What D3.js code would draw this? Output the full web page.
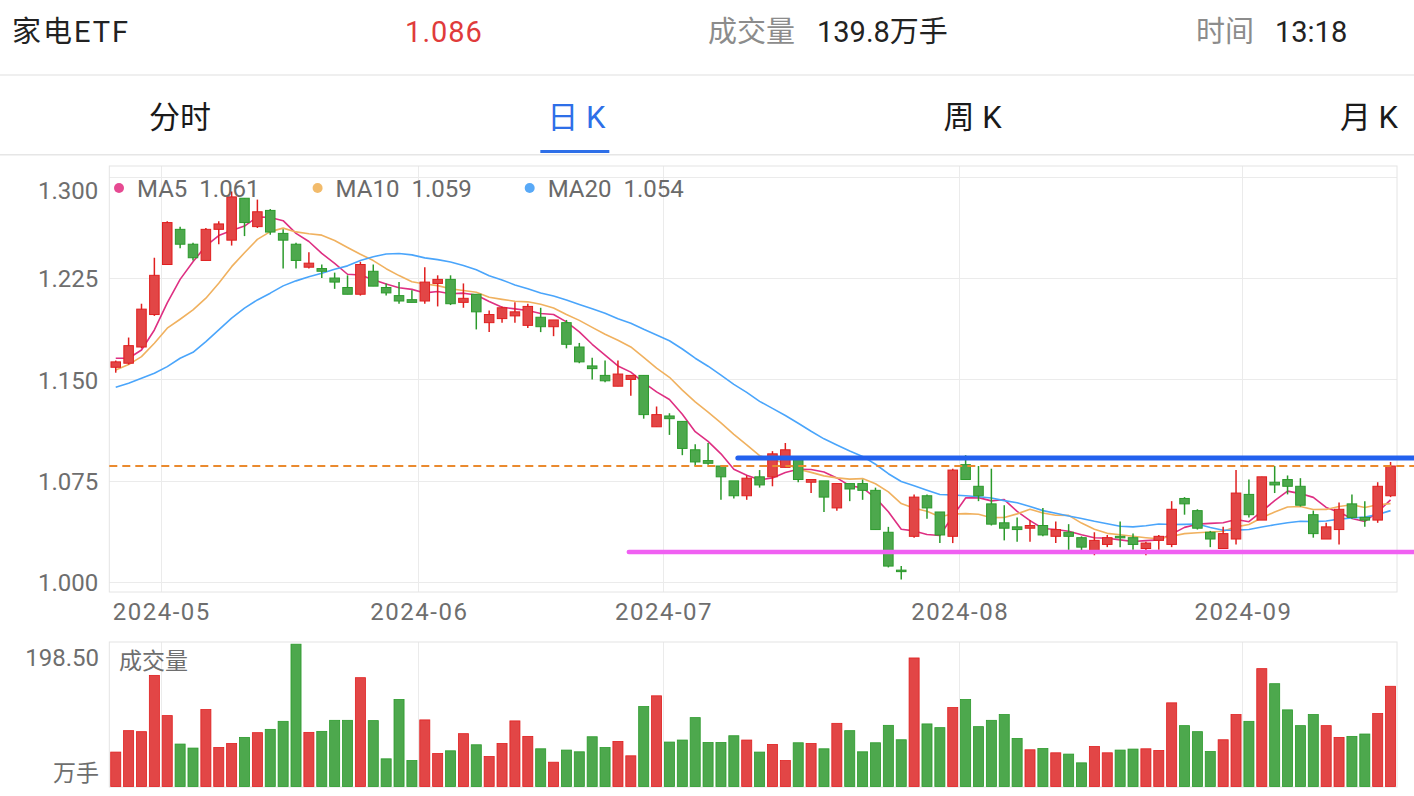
<!DOCTYPE html>
<html><head><meta charset="utf-8">
<script src="https://cdn.jsdelivr.net/npm/d3@7/dist/d3.min.js"></script>
<style>
html,body{margin:0;padding:0;background:#fff;}
svg{display:block;font-family:Roboto,"Noto Sans CJK SC",sans-serif;}
</style></head><body>
<svg id="c" width="1414" height="796"></svg>
<script>
// ---------- data ----------
const dates = [
"2024-04-25","2024-04-26","2024-04-29","2024-04-30",
"2024-05-06","2024-05-07","2024-05-08","2024-05-09","2024-05-10",
"2024-05-13","2024-05-14","2024-05-15","2024-05-16","2024-05-17",
"2024-05-20","2024-05-21","2024-05-22","2024-05-23","2024-05-24",
"2024-05-27","2024-05-28","2024-05-29","2024-05-30","2024-05-31",
"2024-06-03","2024-06-04","2024-06-05","2024-06-06","2024-06-07",
"2024-06-11","2024-06-12","2024-06-13","2024-06-14",
"2024-06-17","2024-06-18","2024-06-19","2024-06-20","2024-06-21",
"2024-06-24","2024-06-25","2024-06-26","2024-06-27","2024-06-28",
"2024-07-01","2024-07-02","2024-07-03","2024-07-04","2024-07-05",
"2024-07-08","2024-07-09","2024-07-10","2024-07-11","2024-07-12",
"2024-07-15","2024-07-16","2024-07-17","2024-07-18","2024-07-19",
"2024-07-22","2024-07-23","2024-07-24","2024-07-25","2024-07-26",
"2024-07-29","2024-07-30","2024-07-31",
"2024-08-01","2024-08-02",
"2024-08-05","2024-08-06","2024-08-07","2024-08-08","2024-08-09",
"2024-08-12","2024-08-13","2024-08-14","2024-08-15","2024-08-16",
"2024-08-19","2024-08-20","2024-08-21","2024-08-22","2024-08-23",
"2024-08-26","2024-08-27","2024-08-28","2024-08-29","2024-08-30",
"2024-09-02","2024-09-03","2024-09-04","2024-09-05","2024-09-06",
"2024-09-09","2024-09-10","2024-09-11","2024-09-12","2024-09-13",
"2024-09-18","2024-09-19"];

const open = [1.159,1.162,1.174,1.198,1.235,1.261,1.250,1.238,1.261,1.253,
1.284,1.263,1.275,1.258,1.250,1.233,1.232,1.225,1.218,1.213,
1.230,1.218,1.212,1.209,1.208,1.221,1.224,1.207,1.213,1.192,
1.195,1.197,1.190,1.196,1.189,1.192,1.174,1.160,1.153,1.145,
1.150,1.153,1.115,1.123,1.119,1.098,1.090,1.086,1.075,1.064,
1.078,1.078,1.085,1.091,1.074,1.075,1.055,1.073,1.073,1.068,
1.037,1.009,1.034,1.064,1.052,1.034,1.087,1.071,1.058,1.044,
1.041,1.040,1.042,1.034,1.037,1.033,1.023,1.028,1.034,1.033,
1.025,1.031,1.028,1.062,1.053,1.037,1.025,1.032,1.065,1.046,
1.074,1.076,1.071,1.050,1.032,1.039,1.058,1.048,1.046,1.064];
const high = [1.164,1.181,1.206,1.240,1.267,1.263,1.251,1.262,1.267,1.289,
1.284,1.283,1.276,1.261,1.251,1.244,1.235,1.229,1.227,1.237,
1.235,1.221,1.222,1.216,1.233,1.227,1.227,1.221,1.213,1.201,
1.204,1.207,1.206,1.203,1.194,1.194,1.177,1.166,1.164,1.164,
1.153,1.153,1.130,1.125,1.119,1.102,1.103,1.086,1.075,1.079,
1.083,1.097,1.103,1.093,1.076,1.075,1.073,1.073,1.076,1.070,
1.041,1.012,1.065,1.065,1.052,1.084,1.094,1.086,1.084,1.057,
1.048,1.046,1.055,1.045,1.043,1.034,1.037,1.035,1.045,1.036,
1.030,1.035,1.060,1.063,1.054,1.038,1.041,1.083,1.076,1.078,
1.086,1.079,1.077,1.053,1.044,1.059,1.065,1.060,1.074,1.089];
const low = [1.155,1.161,1.173,1.197,1.235,1.247,1.238,1.238,1.250,1.249,
1.256,1.262,1.257,1.232,1.232,1.232,1.225,1.217,1.213,1.212,
1.219,1.212,1.206,1.207,1.206,1.204,1.205,1.203,1.187,1.185,
1.192,1.192,1.188,1.185,1.182,1.173,1.162,1.150,1.148,1.145,
1.138,1.121,1.115,1.109,1.094,1.086,1.087,1.061,1.062,1.061,
1.070,1.071,1.085,1.074,1.066,1.052,1.053,1.060,1.061,1.039,
1.011,1.002,1.033,1.047,1.029,1.029,1.076,1.060,1.042,1.031,
1.030,1.030,1.034,1.029,1.024,1.023,1.020,1.026,1.026,1.024,
1.020,1.024,1.026,1.050,1.039,1.026,1.025,1.028,1.048,1.046,
1.066,1.065,1.056,1.033,1.032,1.028,1.047,1.041,1.044,1.063];
const close = [1.163,1.175,1.202,1.227,1.266,1.250,1.240,1.261,1.265,1.285,
1.266,1.274,1.259,1.253,1.238,1.236,1.230,1.222,1.213,1.235,
1.219,1.214,1.208,1.207,1.222,1.224,1.206,1.210,1.200,1.198,
1.203,1.200,1.204,1.189,1.194,1.176,1.163,1.158,1.149,1.154,
1.153,1.124,1.124,1.121,1.099,1.089,1.088,1.078,1.064,1.077,
1.072,1.095,1.098,1.076,1.076,1.063,1.073,1.069,1.068,1.039,
1.012,1.008,1.063,1.055,1.035,1.083,1.076,1.064,1.043,1.040,
1.039,1.042,1.035,1.039,1.034,1.026,1.031,1.033,1.033,1.028,
1.029,1.034,1.054,1.058,1.040,1.032,1.036,1.066,1.050,1.078,
1.072,1.071,1.057,1.036,1.041,1.054,1.048,1.046,1.071,1.086];
const volume = [48.0,77.9,76.5,155.0,98.9,59.2,53.6,107.3,54.4,60.0,
68.5,75.1,79.7,90.9,198.5,75.5,76.9,92.3,92.3,151.8,
91.9,38.6,121.4,36.2,92.9,46.0,49.8,73.7,58.2,41.8,
60.0,91.5,69.9,52.6,33.9,50.8,48.4,69.4,54.4,62.9,
42.8,111.5,126.5,62.0,64.8,96.1,61.4,61.4,70.8,64.8,
48.0,58.7,36.2,61.0,60.0,52.6,88.1,77.9,48.4,61.0,
85.3,65.2,179.3,87.3,82.1,110.1,121.4,83.5,92.3,100.3,
67.1,51.2,53.0,47.0,45.2,33.0,55.8,47.0,50.8,52.2,
52.6,50.2,116.7,84.9,76.5,48.8,65.2,100.3,90.9,164.4,
143.4,106.9,84.9,100.3,84.9,68.5,69.9,73.2,101.7,139.8];
const ma5 = [1.1657,1.1657,1.1718,1.1866,1.2066,1.2240,1.2370,1.2488,1.2564,1.2602,
1.2634,1.2702,1.2698,1.2674,1.2580,1.2520,1.2432,1.2358,1.2278,1.2272,
1.2238,1.2206,1.2178,1.2166,1.2140,1.2150,1.2134,1.2138,1.2124,1.2076,
1.2034,1.2022,1.2010,1.1988,1.1980,1.1926,1.1852,1.1760,1.1680,1.1600,
1.1554,1.1476,1.1408,1.1352,1.1242,1.1114,1.1042,1.0950,1.0836,1.0792,
1.0758,1.0772,1.0812,1.0836,1.0834,1.0816,1.0772,1.0714,1.0698,1.0624,
1.0522,1.0392,1.0380,1.0354,1.0346,1.0488,1.0624,1.0626,1.0602,1.0612,
1.0524,1.0456,1.0398,1.0390,1.0378,1.0352,1.0330,1.0326,1.0314,1.0302,
1.0308,1.0314,1.0356,1.0406,1.0430,1.0436,1.0440,1.0464,1.0448,1.0524,
1.0604,1.0674,1.0656,1.0628,1.0554,1.0518,1.0472,1.0450,1.0520,1.0610];
const ma10 = [1.1570,1.1610,1.1669,1.1768,1.1879,1.1945,1.2014,1.2101,1.2212,1.2334,
1.2437,1.2536,1.2593,1.2619,1.2591,1.2577,1.2567,1.2528,1.2476,1.2426,
1.2379,1.2319,1.2268,1.2222,1.2206,1.2194,1.2170,1.2158,1.2145,1.2108,
1.2092,1.2078,1.2074,1.2056,1.2028,1.1980,1.1937,1.1885,1.1834,1.1790,
1.1740,1.1664,1.1584,1.1516,1.1421,1.1334,1.1259,1.1179,1.1094,1.1017,
1.0936,1.0907,1.0881,1.0836,1.0813,1.0787,1.0772,1.0763,1.0767,1.0729,
1.0669,1.0582,1.0547,1.0526,1.0485,1.0505,1.0508,1.0503,1.0478,1.0479,
1.0506,1.0540,1.0512,1.0496,1.0495,1.0438,1.0393,1.0362,1.0352,1.0340,
1.0330,1.0322,1.0341,1.0360,1.0366,1.0372,1.0377,1.0410,1.0427,1.0477,
1.0520,1.0557,1.0560,1.0538,1.0539,1.0561,1.0573,1.0553,1.0574,1.0582];
const ma20 = [1.1442,1.1472,1.1509,1.1546,1.1595,1.1657,1.1701,1.1780,1.1866,1.1953,
1.2027,1.2088,1.2138,1.2192,1.2229,1.2260,1.2286,1.2315,1.2340,1.2380,
1.2408,1.2428,1.2431,1.2421,1.2399,1.2386,1.2369,1.2343,1.2311,1.2267,
1.2236,1.2199,1.2171,1.2139,1.2117,1.2087,1.2054,1.2022,1.1990,1.1949,
1.1916,1.1871,1.1829,1.1786,1.1725,1.1657,1.1598,1.1532,1.1464,1.1404,
1.1338,1.1286,1.1233,1.1176,1.1117,1.1061,1.1016,1.0971,1.0931,1.0873,
1.0803,1.0745,1.0714,1.0681,1.0649,1.0646,1.0640,1.0633,1.0623,1.0604,
1.0588,1.0561,1.0530,1.0511,1.0490,1.0472,1.0451,1.0433,1.0415,1.0410,
1.0418,1.0431,1.0427,1.0428,1.0431,1.0405,1.0385,1.0386,1.0390,1.0409,
1.0425,1.0440,1.0451,1.0449,1.0453,1.0467,1.0475,1.0482,1.0501,1.0530];

const maNames = ["MA5","MA10","MA20"];
const maLegendValues = ["1.061","1.059","1.054"];
const priceTicks = [1.000,1.075,1.150,1.225,1.300];
const monthTicks = ["2024-05","2024-06","2024-07","2024-08","2024-09"];
const lastPrice = 1.086;
const resistance = {start:"2024-07-08", value:1.092};
const support = {start:"2024-06-26", value:1.0225};
const headerInfo = {name:"家电ETF", price:"1.086", volLabel:"成交量", vol:"139.8万手", timeLabel:"时间", time:"13:18"};
const tabs = ["分时","日 K","周 K","月 K"];
const activeTab = 1;

// ---------- style ----------
const W = 1414, H = 796;
const PL = 109.3, PR = 1397, PT = 166, PB = 592, VT = 642, VB = 787;
const RED = "#e24646", RED_S = "#e01f1f", GREEN = "#4da84d", GREEN_S = "#2b9a2b";
const MA_COLORS = ["#de2f82", "#f0b15f", "#4aa5fb"];
const DOT_COLORS = ["#e64a92", "#f2bb6b", "#58a9f7"];
const AXIS_C = "#6e6e6e", GRID_C = "#ebebeb";

const svg = d3.select("#c");

// ---------- header ----------
const hdr = svg.append("g").attr("font-size", 29);
hdr.append("text").attr("x", 12).attr("y", 32).attr("dominant-baseline", "central").attr("fill", "#222").attr("letter-spacing", 2).text(headerInfo.name);
hdr.append("text").attr("x", 444).attr("y", 32).attr("text-anchor", "middle").attr("dominant-baseline", "central").attr("fill", "#e03b3b").attr("letter-spacing", 1).text(headerInfo.price);
hdr.append("text").attr("x", 708).attr("y", 32).attr("dominant-baseline", "central").attr("fill", "#8c8c8c").text(headerInfo.volLabel);
hdr.append("text").attr("x", 817).attr("y", 32).attr("dominant-baseline", "central").attr("fill", "#222").text(headerInfo.vol);
hdr.append("text").attr("x", 1196).attr("y", 32).attr("dominant-baseline", "central").attr("fill", "#8c8c8c").text(headerInfo.timeLabel);
hdr.append("text").attr("x", 1275).attr("y", 32).attr("dominant-baseline", "central").attr("fill", "#222").text(headerInfo.time);
svg.append("rect").attr("x", 0).attr("y", 74).attr("width", W).attr("height", 2).attr("fill", "#efefef");

// ---------- tabs ----------
const tabX = d3.scalePoint().domain(tabs).range([180, 1369]);
svg.append("g").selectAll("text").data(tabs).join("text")
  .attr("x", d => tabX(d)).attr("y", 117).attr("text-anchor", "middle").attr("dominant-baseline", "central")
  .attr("font-size", 31).attr("fill", (d, i) => i === activeTab ? "#2e6fe8" : "#1a1a1a").text(d => d);
svg.append("rect").attr("x", tabX(tabs[activeTab]) - 36).attr("y", 150).attr("width", 69).attr("height", 3).attr("fill", "#2e6fe8");
svg.append("rect").attr("x", 0).attr("y", 154).attr("width", W).attr("height", 1.5).attr("fill", "#e6e6e6");

// ---------- scales ----------
const x = d3.scaleBand().domain(dates).range([PL, PR]);
const bw = x.bandwidth();
const cx = d => x(d) + bw / 2;
const y = d3.scaleLinear().domain([0.99283, 1.30784]).range([PB, PT]);
const yv = d3.scaleLinear().domain([0, d3.max(volume)]).range([786.5, 644.2]);
const monthStart = m => dates.find(d => d.startsWith(m));

// ---------- grid / frames ----------
const grid = svg.append("g").attr("stroke", GRID_C).attr("stroke-width", 1).attr("fill", "none");
grid.selectAll("line.h").data(priceTicks).join("line").attr("class", "h")
  .attr("x1", PL).attr("x2", PR).attr("y1", d => Math.round(y(d)) + 0.5).attr("y2", d => Math.round(y(d)) + 0.5);
grid.selectAll("line.v").data(monthTicks).join("line").attr("class", "v")
  .attr("x1", d => Math.round(x(monthStart(d))) + 0.5).attr("x2", d => Math.round(x(monthStart(d))) + 0.5)
  .attr("y1", PT).attr("y2", PB);
grid.selectAll("line.vv").data(monthTicks).join("line").attr("class", "vv")
  .attr("x1", d => Math.round(x(monthStart(d))) + 0.5).attr("x2", d => Math.round(x(monthStart(d))) + 0.5)
  .attr("y1", VT).attr("y2", VB);
grid.append("rect").attr("x", PL).attr("y", PT).attr("width", PR - PL).attr("height", PB - PT).attr("stroke", "#e4e4e4");
grid.append("rect").attr("x", PL).attr("y", VT).attr("width", PR - PL).attr("height", VB - VT).attr("stroke", "#e4e4e4");

// ---------- price axis ----------
const yAxis = svg.append("g").attr("transform", `translate(${PL},0)`)
  .call(d3.axisLeft(y).tickValues(priceTicks).tickFormat(d3.format(".3f")).tickSize(0).tickPadding(11));
yAxis.select(".domain").remove();
yAxis.selectAll("text").attr("font-size", 24).attr("fill", AXIS_C).attr("font-family", "Roboto, sans-serif")
  .attr("dy", d => d === d3.max(priceTicks) ? "0.92em" : "0.36em");

// month labels
svg.append("g").selectAll("text").data(monthTicks).join("text")
  .attr("x", d => x(monthStart(d)) + 1).attr("y", 612).attr("text-anchor", "middle").attr("dominant-baseline", "central")
  .attr("font-size", 24).attr("letter-spacing", 1.5).attr("fill", AXIS_C).text(d => d);

// ---------- MA lines ----------
const line = d3.line().x((v, i) => cx(dates[i])).y(v => y(v));
[ma5, ma10, ma20].forEach((arr, k) => {
  svg.append("path").datum(arr).attr("d", line).attr("fill", "none")
    .attr("stroke", MA_COLORS[k]).attr("stroke-width", 1.6).attr("stroke-linejoin", "round");
});

// ---------- candles ----------
const candles = dates.map((d, i) => ({d, o: open[i], h: high[i], l: low[i], c: close[i], v: volume[i], up: close[i] >= open[i]}));
const cg = svg.append("g");
cg.selectAll("line").data(candles).join("line")
  .attr("x1", d => cx(d.d)).attr("x2", d => cx(d.d)).attr("y1", d => y(d.h)).attr("y2", d => y(d.l))
  .attr("stroke", d => d.up ? RED_S : GREEN_S).attr("stroke-width", 1.5);
const bodyW = bw * 0.74;
cg.selectAll("rect").data(candles).join("rect")
  .attr("x", d => cx(d.d) - bodyW / 2).attr("width", bodyW)
  .attr("y", d => y(Math.max(d.o, d.c)))
  .attr("height", d => Math.max(1.5, Math.abs(y(d.o) - y(d.c))))
  .attr("fill", d => d.up ? RED : GREEN).attr("stroke", d => d.up ? RED_S : GREEN_S).attr("stroke-width", 1);

// ---------- annotation lines ----------
svg.append("line").attr("x1", PL).attr("x2", W).attr("y1", y(lastPrice)).attr("y2", y(lastPrice))
  .attr("stroke", "#ea8a2e").attr("stroke-width", 2).attr("stroke-dasharray", "8,5");
svg.append("line").attr("x1", cx(resistance.start) + 4).attr("x2", W).attr("y1", y(resistance.value)).attr("y2", y(resistance.value))
  .attr("stroke", "#2361ee").attr("stroke-width", 5).attr("stroke-linecap", "round");
svg.append("line").attr("x1", cx(support.start) - 2).attr("x2", W).attr("y1", y(support.value)).attr("y2", y(support.value))
  .attr("stroke", "#f060f2").attr("stroke-width", 4.5).attr("stroke-linecap", "round");

// ---------- legend ----------
const lg = svg.append("g").attr("font-size", 24);
let lx = 119;
maNames.forEach((name, k) => {
  lg.append("circle").attr("cx", lx).attr("cy", 188).attr("r", 5).attr("fill", DOT_COLORS[k]);
  const t1 = lg.append("text").attr("x", lx + 18).attr("y", 189).attr("dominant-baseline", "central").attr("fill", "#6a6a6a").text(name);
  const w1 = t1.node().getComputedTextLength();
  const t2 = lg.append("text").attr("x", lx + 18 + w1 + 12).attr("y", 189).attr("dominant-baseline", "central").attr("fill", "#6a6a6a").text(maLegendValues[k]);
  const w2 = t2.node().getComputedTextLength();
  lx = lx + 18 + w1 + 12 + w2 + 58;
});

// ---------- volume ----------
const vg = svg.append("g");
const vW = bw * 0.78;
vg.selectAll("rect").data(candles).join("rect")
  .attr("x", d => cx(d.d) - vW / 2).attr("width", vW)
  .attr("y", d => yv(d.v)).attr("height", d => yv(0) - yv(d.v))
  .attr("fill", d => d.up ? RED : GREEN).attr("stroke", d => d.up ? RED_S : GREEN_S).attr("stroke-width", 0.8);
svg.append("text").attr("x", 99).attr("y", 658).attr("text-anchor", "end").attr("dominant-baseline", "central")
  .attr("font-size", 24).attr("fill", AXIS_C).text(d3.format(".2f")(d3.max(volume)));
svg.append("text").attr("x", 99).attr("y", 773).attr("text-anchor", "end").attr("dominant-baseline", "central")
  .attr("font-size", 23).attr("fill", AXIS_C).text("万手");
svg.append("text").attr("x", 119).attr("y", 661).attr("dominant-baseline", "central")
  .attr("font-size", 23).attr("fill", AXIS_C).text("成交量");
</script>
</body></html>
